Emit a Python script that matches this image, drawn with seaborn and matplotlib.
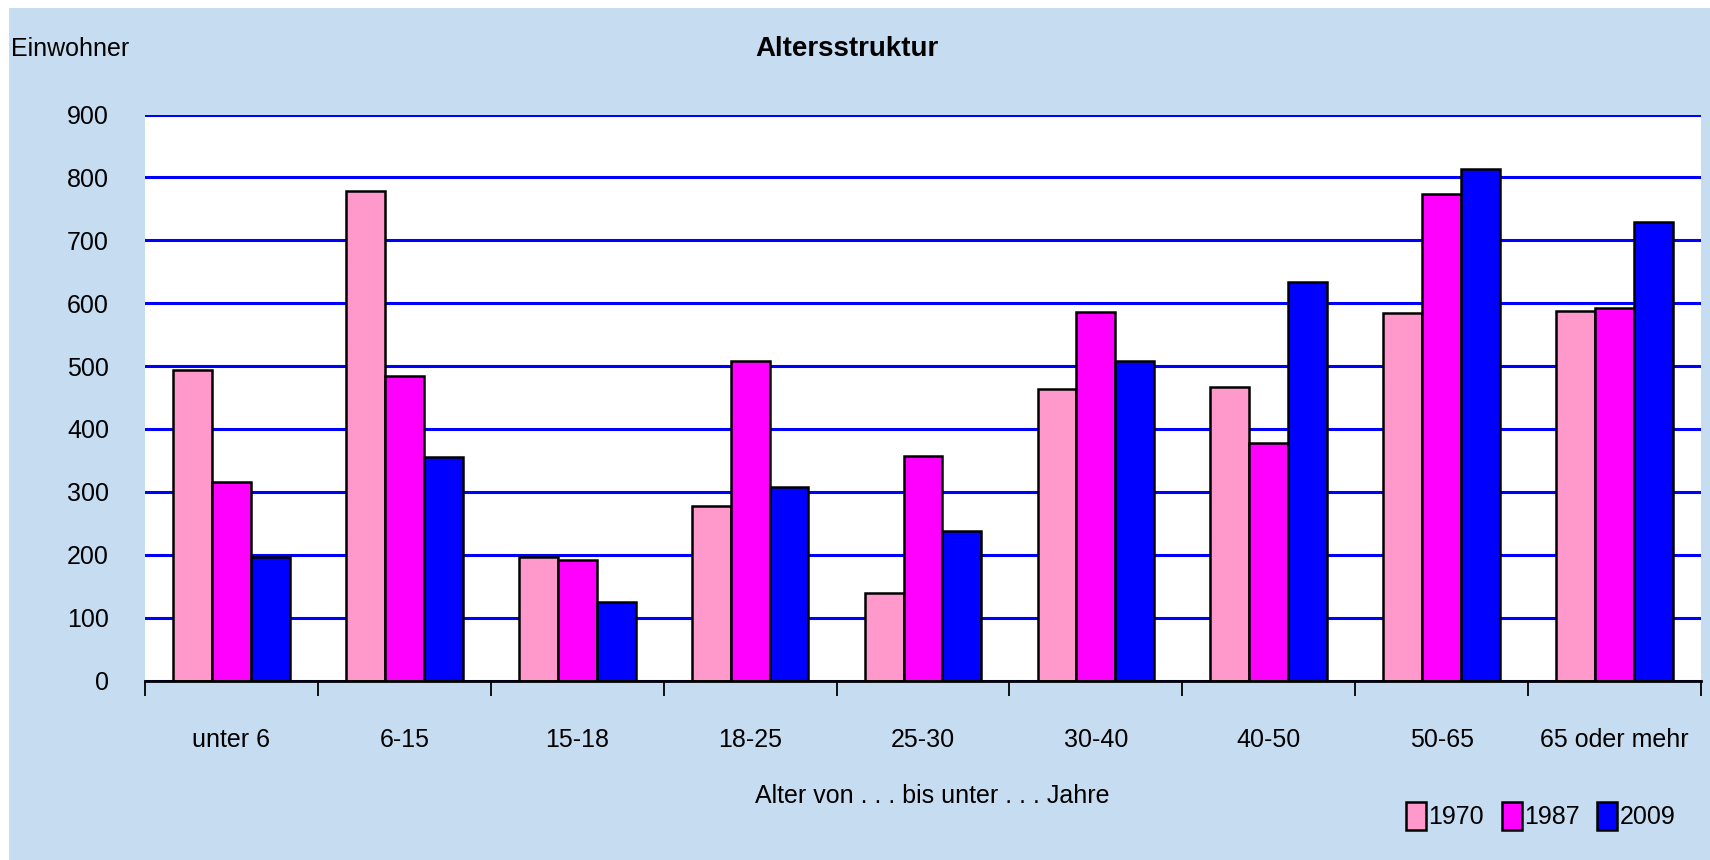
import matplotlib
matplotlib.use("Agg")
import matplotlib.pyplot as plt
import seaborn as sns
import pandas as pd
import numpy as np
from matplotlib.patches import Rectangle

categories = ["unter 6", "6-15", "15-18", "18-25", "25-30", "30-40", "40-50", "50-65", "65 oder mehr"]
years = ["1970", "1987", "2009"]
v1970 = [494, 779, 197, 277, 139, 463, 466, 584, 588]
v1987 = [315, 484, 191, 508, 357, 586, 378, 773, 593]
v2009 = [197, 356, 125, 307, 238, 508, 633, 814, 729]
colors = ["#FF99CC", "#FF00FF", "#0000FF"]
yticks = [0, 100, 200, 300, 400, 500, 600, 700, 800, 900]

sns.set_style("white")
plt.rcParams['font.family'] = ['Liberation Sans', 'DejaVu Sans']
plt.rcParams['text.color'] = 'black'
plt.rcParams['xtick.labelcolor'] = 'black'
plt.rcParams['ytick.labelcolor'] = 'black'
plt.rcParams['xtick.color'] = 'black'

df = pd.DataFrame({
    "Alter": categories * 3,
    "Einwohner": v1970 + v1987 + v2009,
    "Jahr": [years[0]] * 9 + [years[1]] * 9 + [years[2]] * 9,
})

BG = "#C6DCF1"
FS = 18
fig = plt.figure(figsize=(17.1, 8.6), dpi=100)
fig.patch.set_facecolor("white")
fig.patches.append(Rectangle((9 / 1710, 0), 1, 1 - 8 / 860, transform=fig.transFigure,
                             facecolor=BG, edgecolor="none", zorder=-10))

ax = fig.add_axes([145 / 1710, 1 - 680.6 / 860, (1701 - 145) / 1710, (680.6 - 114.5) / 860])
ax.set_facecolor("white")

sns.barplot(data=df, x="Alter", y="Einwohner", hue="Jahr", order=categories, hue_order=years,
            palette=dict(zip(years, colors)), saturation=1, width=0.675, gap=0,
            edgecolor="black", linewidth=1.8, errorbar=None, ax=ax)

ax.set_ylim(0, 900)
ax.set_xlim(-0.5, 8.5)
ax.set_yticks(yticks)
ax.yaxis.grid(True, color="#0000FF", linewidth=2.2)
ax.xaxis.grid(False)
ax.set_axisbelow(True)
for s in ["left", "right", "top"]:
    ax.spines[s].set_visible(False)
ax.spines["bottom"].set_color("black")
ax.spines["bottom"].set_linewidth(2)

ax.set_xticks(np.arange(-0.5, 9, 1), minor=True)
ax.tick_params(axis="x", which="minor", bottom=True, length=11, width=1.3, color="black",
               direction="out")
ax.tick_params(axis="x", which="major", bottom=True, length=0, pad=34, labelsize=FS,
               labelcolor="black")
ax.tick_params(axis="y", left=False, length=0, pad=26, labelsize=FS, labelcolor="black")
ax.set_xlabel("")
ax.set_ylabel("")

handles, labels = ax.get_legend_handles_labels()
if ax.get_legend() is not None:
    ax.get_legend().remove()
leg = fig.legend(handles, labels, loc="center right", bbox_to_anchor=(1688 / 1710, 1 - 816 / 860),
                 ncol=3, frameon=False, fontsize=FS, handlelength=0.8, handleheight=1.3,
                 handletextpad=0.1, columnspacing=0.7, borderpad=0, labelcolor="black")

fig.text(847 / 1710, 1 - 49 / 860, "Altersstruktur", ha="center", va="center",
         fontsize=20, fontweight="bold", color="black")
fig.text(11 / 1710, 1 - 49 / 860, "Einwohner", ha="left", va="center", fontsize=FS, color="black")
fig.text(932 / 1710, 1 - 796 / 860, "Alter von . . . bis unter . . . Jahre", ha="center",
         va="center", fontsize=FS, color="black")

fig.savefig("out.png", dpi=100, facecolor=fig.get_facecolor())
